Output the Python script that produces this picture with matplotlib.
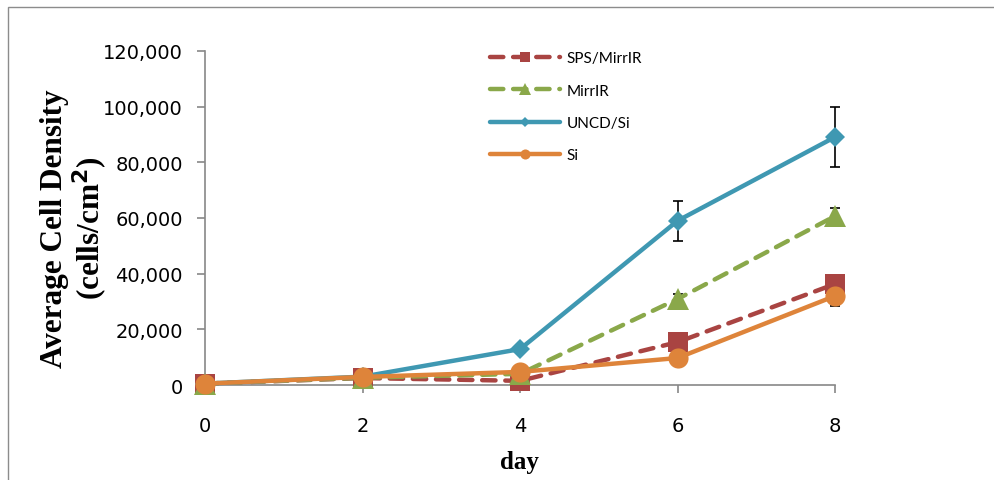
import matplotlib
matplotlib.use("Agg")
import matplotlib.pyplot as plt
from matplotlib.patches import Rectangle
from matplotlib.ticker import FuncFormatter

# Cell density per day for each substrate
days = [0, 2, 4, 6, 8]
sps_mirrir = [500, 2500, 1500, 15400, 36300]
mirrir = [500, 2600, 4000, 30900, 60700]
uncd_si = [500, 3000, 12900, 59000, 89100]
si = [500, 2900, 4700, 9700, 32000]

sps_err = [0, 0, 0, 0, 0]
mirrir_err = [0, 0, 0, 1800, 2900]
uncd_err = [0, 0, 0, 7200, 10800]
si_err = [0, 0, 0, 0, 3600]

labels = ["SPS/MirrIR", "MirrIR", "UNCD/Si", "Si"]

fig = plt.figure(figsize=(9.94, 4.81), dpi=100)
ax = fig.add_axes([0.2062, 0.1975, 0.634, 0.6945])

# gray frame around the chart area
fig.patches.append(Rectangle((8 / 994, -0.1), 1.2, 1.1 - 8 / 481, transform=fig.transFigure,
                             fill=False, edgecolor="#8c8c8c", linewidth=1.0))

series = [
    (sps_mirrir, sps_err, "#A94442", "s", 14.5, (3, 2.2)),
    (mirrir, mirrir_err, "#8AA84A", "^", 16, (3, 2.2)),
    (uncd_si, uncd_err, "#3F98B2", "D", 10.5, None),
    (si, si_err, "#DE843A", "o", 14.5, None),
]

for (vals, err, color, marker, ms, dash), lab in zip(series, labels):
    eb = ax.errorbar(days, vals, yerr=err, fmt="none", ecolor="black", elinewidth=1.2,
                     capsize=3.5, capthick=1.2, zorder=1)
    for art in eb.lines[1] + eb.lines[2]:
        art.set_clip_on(False)
    line, = ax.plot(days, vals, color=color, lw=3.2, marker=marker, markersize=ms,
                    markeredgewidth=0, label=lab, solid_capstyle="round", zorder=2,
                    clip_on=False)
    if dash:
        line.set_dashes(dash)
        line.set_dash_capstyle("round")

ax.set_xlim(0, 8)
ax.set_ylim(0, 120000)
ax.set_xticks(days)
ax.set_yticks(range(0, 120001, 20000))
ax.yaxis.set_major_formatter(FuncFormatter(lambda v, p: f"{v:,.0f}"))

for s in ["top", "right"]:
    ax.spines[s].set_visible(False)
for s in ["left", "bottom"]:
    ax.spines[s].set_color("#888888")
    ax.spines[s].set_linewidth(1.2)
    ax.spines[s].set_zorder(0)

ax.tick_params(axis="both", colors="#888888", labelcolor="black", labelsize=14,
               length=6, width=1.2)
ax.tick_params(axis="x", pad=16)
ax.tick_params(axis="y", pad=10)
for t in ax.get_xticklabels() + ax.get_yticklabels():
    t.set_family("DejaVu Sans")

fig.text(0.055, 0.525, "Average Cell Density", rotation=90, ha="center", va="center",
         family="Liberation Serif", fontweight="bold", fontsize=22.5)
fig.text(0.091, 0.525, "(cells/cm$^\\mathbf{2}$)", rotation=90, ha="center", va="center",
         family="Liberation Serif", fontweight="bold", fontsize=22.5)
fig.text(0.523, 0.038, "day", ha="center", va="center",
         family="Liberation Serif", fontweight="bold", fontsize=18)

leg = ax.legend(loc="upper left", bbox_to_anchor=(0.43, 1.04), frameon=False,
                prop={"family": "Lato", "size": 11}, handlelength=4.6,
                labelspacing=1.2, handletextpad=0.45, markerscale=0.5)

fig.savefig("out.png", dpi=100)
